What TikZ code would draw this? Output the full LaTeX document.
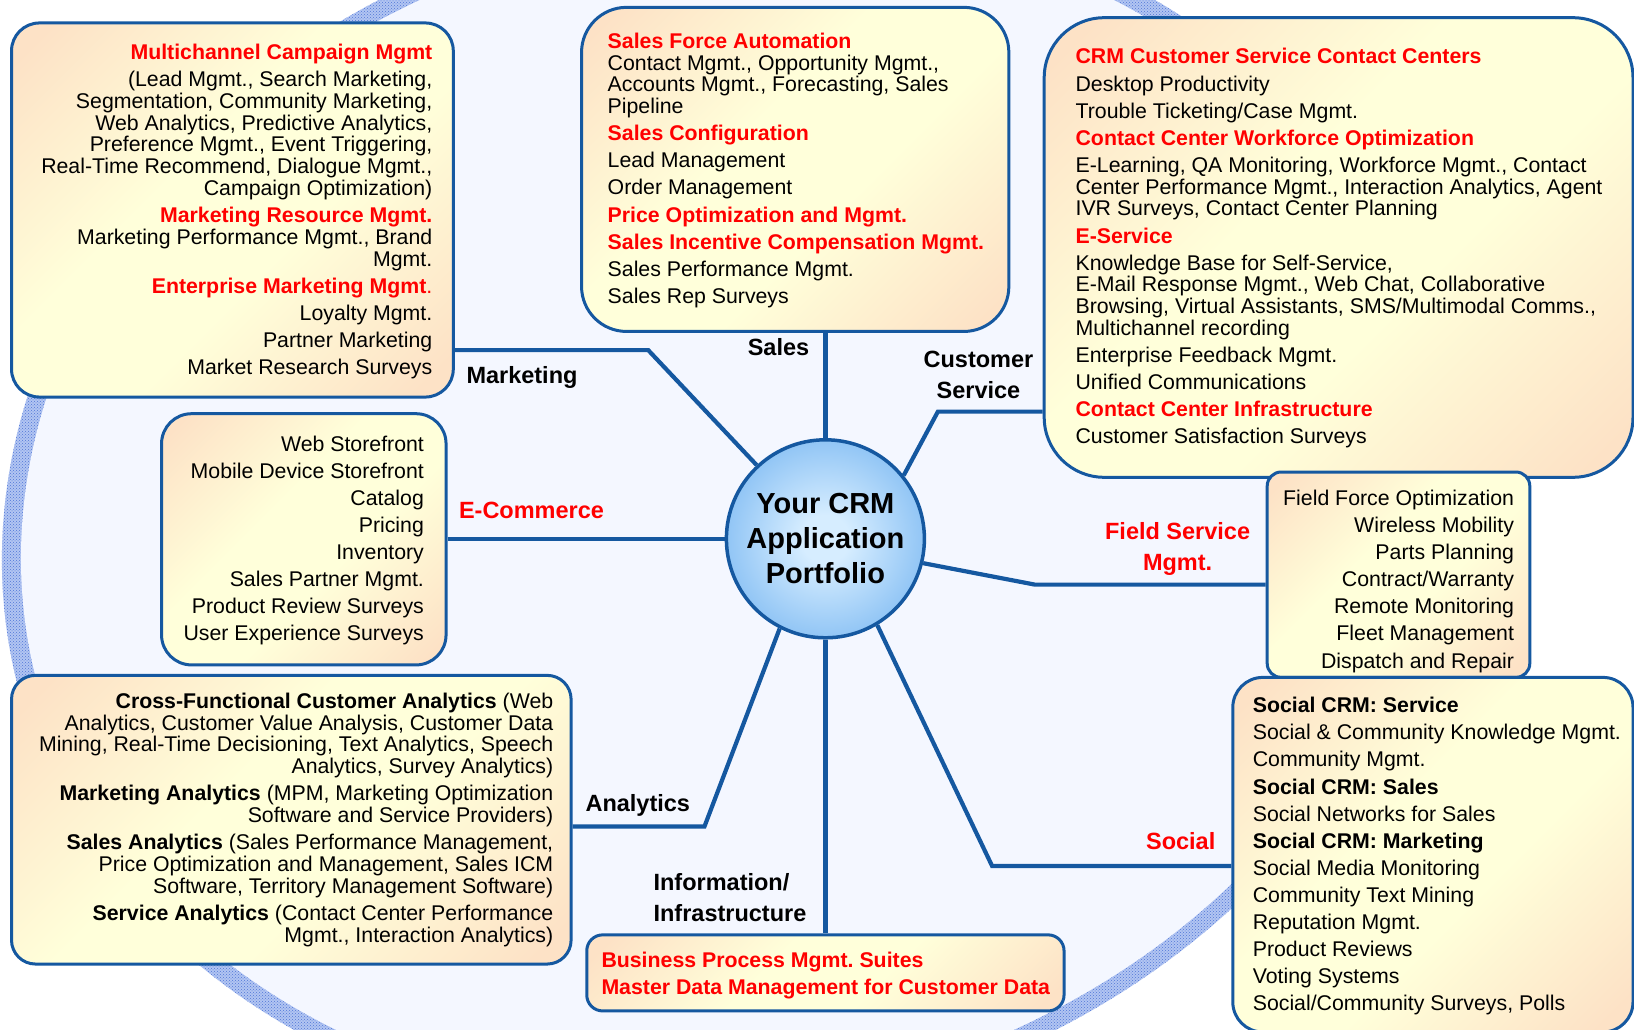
\documentclass[tikz,border=0pt]{standalone}
\usepackage{fontspec}
\setmainfont{Liberation Sans}
\usetikzlibrary{patterns}

\definecolor{linkblue}{RGB}{21,88,160}
\definecolor{hotred}{RGB}{255,0,0}
\definecolor{peach}{RGB}{253,226,198}
\definecolor{cream}{RGB}{255,255,218}
\definecolor{paleblue}{RGB}{244,247,255}
\definecolor{bandblue}{RGB}{80,118,215}
\definecolor{bandbase}{RGB}{178,197,242}
\definecolor{hubin}{RGB}{214,237,255}
\definecolor{hubout}{RGB}{145,197,245}

\pgfdeclarehorizontalshading{boxfill}{100bp}{color(0bp)=(peach); color(18bp)=(peach); color(42bp)=(cream); color(58bp)=(cream); color(82bp)=(peach); color(100bp)=(peach)}
\pgfdeclareradialshading{hubfill}{\pgfpoint{0bp}{0bp}}{color(0bp)=(hubin); color(6bp)=(hubin); color(25bp)=(hubout); color(50bp)=(hubout)}

\pgfdeclarelayer{back}
\pgfsetlayers{back,main}

\newcommand{\redhead}[1]{\textcolor{hotred}{\bfseries #1}}

\tikzset{
  box/.style={draw=linkblue, line width=3pt, shade, shading=boxfill, shading angle=-45, inner sep=0pt},
  conn/.style={draw=linkblue, line width=4.2pt},
  body/.style={font=\fontsize{21.3}{21.8}\selectfont, inner sep=0pt},
  branch/.style={font=\fontsize{23.5}{31.5}\selectfont\bfseries, inner sep=0pt},
}

\begin{document}
\frenchspacing
\begin{tikzpicture}[x=1pt,y=-1pt]
\useasboundingbox (0,0) rectangle (1634,1030);
\clip (0,0) rectangle (1634,1030);

% backdrop: pale disc with a dotted rim
\begin{pgfonlayer}{back}
\fill[white] (0,0) rectangle (1634,1030);
\begin{scope}[shift={(721,513)}, xslant=0.0893]
  \fill[bandbase] (0,0) ellipse [x radius=717, y radius=610];
  \fill[pattern=crosshatch dots, pattern color=bandblue] (0,0) ellipse [x radius=717, y radius=610];
  \fill[paleblue] (0,0) ellipse [x radius=698, y radius=591];
\end{scope}
\end{pgfonlayer}

% hub
\node[circle, draw=linkblue, line width=3.5pt, shade, shading=hubfill, minimum size=198pt, inner sep=0pt,
      font=\fontsize{29}{35}\selectfont\bfseries, align=center] (crm) at (825.4,538.8)
      {Your CRM\\Application\\Portfolio};

% boxes
\node[box, rounded corners=28pt, minimum width=441.8pt, minimum height=374.1pt] (mkt) at (232.4,210) {};
\node[box, rounded corners=45pt, minimum width=427.3pt, minimum height=324.1pt] (sales) at (795.2,169.4) {};
\node[box, rounded corners=60pt, minimum width=588.8pt, minimum height=459.6pt] (cs) at (1338.6,247.5) {};
\node[box, rounded corners=30pt, minimum width=284.5pt, minimum height=251.2pt] (ecom) at (303.8,539.3) {};
\node[box, rounded corners=14pt, minimum width=262.6pt, minimum height=205.4pt] (fs) at (1398.5,574.7) {};
\node[box, rounded corners=24pt, minimum width=559.6pt, minimum height=288.7pt] (an) at (291.3,819.7) {};
\node[box, rounded corners=16pt, minimum width=477.3pt, minimum height=76.1pt] (info) at (825.4,972.9) {};
\node[box, rounded corners=30pt, minimum width=400.2pt, minimum height=354.6pt] (soc) at (1432.9,854.7) {};

% box texts (each placed by the baseline of its last line)
\node[body, align=right, anchor=base east] (mkttxt) at (432.5,374.5) {%
\redhead{Multichannel Campaign Mgmt}\\[5.3pt]
(Lead Mgmt., Search Marketing,\\
Segmentation, Community Marketing,\\
Web Analytics, Predictive Analytics,\\
Preference Mgmt., Event Triggering,\\
Real-Time Recommend, Dialogue Mgmt.,\\
Campaign Optimization)\\[5.3pt]
\redhead{Marketing Resource Mgmt.}\\
Marketing Performance Mgmt., Brand\\
Mgmt.\\[5.3pt]
\redhead{Enterprise Marketing Mgmt}\textcolor{hotred}{.}\\[5.3pt]
Loyalty Mgmt.\\[5.3pt]
Partner Marketing\\[5.3pt]
Market Research Surveys};

\node[body, align=left, anchor=base west] (salestxt) at (607.5,303.3) {%
\redhead{Sales Force Automation}\\
Contact Mgmt., Opportunity Mgmt.,\\
Accounts Mgmt., Forecasting, Sales\\
Pipeline\\[5.3pt]
\redhead{Sales Configuration}\\[5.3pt]
Lead Management\\[5.3pt]
Order Management\\[5.3pt]
\redhead{Price Optimization and Mgmt.}\\[5.3pt]
\redhead{Sales Incentive Compensation Mgmt.}\\[5.3pt]
Sales Performance Mgmt.\\[5.3pt]
Sales Rep Surveys};

\node[body, align=left, anchor=base west] (cstxt) at (1075.4,443.9) {%
\redhead{CRM Customer Service Contact Centers}\\[5.3pt]
Desktop Productivity\\[5.3pt]
Trouble Ticketing/Case Mgmt.\\[5.3pt]
\redhead{Contact Center Workforce Optimization}\\[5.3pt]
E-Learning, QA Monitoring, Workforce Mgmt., Contact\\
Center Performance Mgmt., Interaction Analytics, Agent\\
IVR Surveys, Contact Center Planning\\[5.3pt]
\redhead{E-Service}\\[5.3pt]
Knowledge Base for Self-Service,\\
E-Mail Response Mgmt., Web Chat, Collaborative\\
Browsing, Virtual Assistants, SMS/Multimodal Comms.,\\
Multichannel recording\\[5.3pt]
Enterprise Feedback Mgmt.\\[5.3pt]
Unified Communications\\[5.3pt]
\redhead{Contact Center Infrastructure}\\[5.3pt]
Customer Satisfaction Surveys};

\node[body, align=right, anchor=base east] (ecomtxt) at (424.1,640.9) {%
Web Storefront\\[5.3pt]
Mobile Device Storefront\\[5.3pt]
Catalog\\[5.3pt]
Pricing\\[5.3pt]
Inventory\\[5.3pt]
Sales Partner Mgmt.\\[5.3pt]
Product Review Surveys\\[5.3pt]
User Experience Surveys};

\node[body, align=right, anchor=base east] (fstxt) at (1514.2,668) {%
Field Force Optimization\\[5.3pt]
Wireless Mobility\\[5.3pt]
Parts Planning\\[5.3pt]
Contract/Warranty\\[5.3pt]
Remote Monitoring\\[5.3pt]
Fleet Management\\[5.3pt]
Dispatch and Repair};

\node[body, align=right, anchor=base east] (antxt) at (553.4,942.1) {%
\textbf{Cross-Functional Customer Analytics} (Web\\
Analytics, Customer Value Analysis, Customer Data\\
Mining, Real-Time Decisioning, Text Analytics, Speech\\
Analytics, Survey Analytics)\\[5.3pt]
\textbf{Marketing Analytics} (MPM, Marketing Optimization\\
Software and Service Providers)\\[5.3pt]
\textbf{Sales Analytics} (Sales Performance Management,\\
Price Optimization and Management, Sales ICM\\
Software, Territory Management Software)\\[5.3pt]
\textbf{Service Analytics} (Contact Center Performance\\
Mgmt., Interaction Analytics)};

\node[body, align=left, anchor=base west] (infotxt) at (601.3,994.2) {%
\redhead{Business Process Mgmt. Suites}\\[5.3pt]
\redhead{Master Data Management for Customer Data}};

\node[body, align=left, anchor=base west] (soctxt) at (1252.6,1010.8) {%
\textbf{Social CRM: Service}\\[5.3pt]
Social \& Community Knowledge Mgmt.\\[5.3pt]
Community Mgmt.\\[5.3pt]
\textbf{Social CRM: Sales}\\[5.3pt]
Social Networks for Sales\\[5.3pt]
\textbf{Social CRM: Marketing}\\[5.3pt]
Social Media Monitoring\\[5.3pt]
Community Text Mining\\[5.3pt]
Reputation Mgmt.\\[5.3pt]
Product Reviews\\[5.3pt]
Voting Systems\\[5.3pt]
Social/Community Surveys, Polls};

% branch labels
\node[branch, anchor=base] (lblmkt) at (522,383.2) {Marketing};
\node[branch, anchor=base] (lblsales) at (778.5,355) {Sales};
\node[branch, anchor=base, align=center] (lblcs) at (978.5,398.5) {Customer\\Service};
\node[branch, anchor=base, text=hotred] (lblecom) at (531.5,518.6) {E-Commerce};
\node[branch, anchor=base, align=center, text=hotred] (lblfs) at (1177.6,570.5) {Field Service\\Mgmt.};
\node[branch, anchor=base, text=hotred] (lblsoc) at (1180.7,849) {Social};
\node[branch, anchor=base west, align=left] (lblinfo) at (653.4,921.5) {Information/\\Infrastructure};
\node[branch, anchor=base] (lblan) at (637.8,811.5) {Analytics};

% connectors
\coordinate (mkbend) at (648.2,350.1);
\coordinate (csbend) at (937.9,411.6);
\coordinate (fsbend) at (1034.8,584.6);
\coordinate (socbend) at (992.1,866);
\coordinate (anbend) at (704.5,826.4);
\begin{pgfonlayer}{back}
\draw[conn] (mkt.east |- mkbend) -- (mkbend) -- (crm.133.7);
\draw[conn] (sales.south -| crm.north) -- (crm.north);
\draw[conn] (crm.39) -- (csbend) -- (cs.west |- csbend);
\draw[conn] (ecom.east |- crm.west) -- (crm.west);
\draw[conn] (crm.346.4) -- (fsbend) -- (fs.west |- fsbend);
\draw[conn] (crm.301.2) -- (socbend) -- (soc.west |- socbend);
\draw[conn] (crm.south) -- (info.north -| crm.south);
\draw[conn] (crm.243.7) -- (anbend) -- (an.east |- anbend);
\end{pgfonlayer}
\end{tikzpicture}
\end{document}
